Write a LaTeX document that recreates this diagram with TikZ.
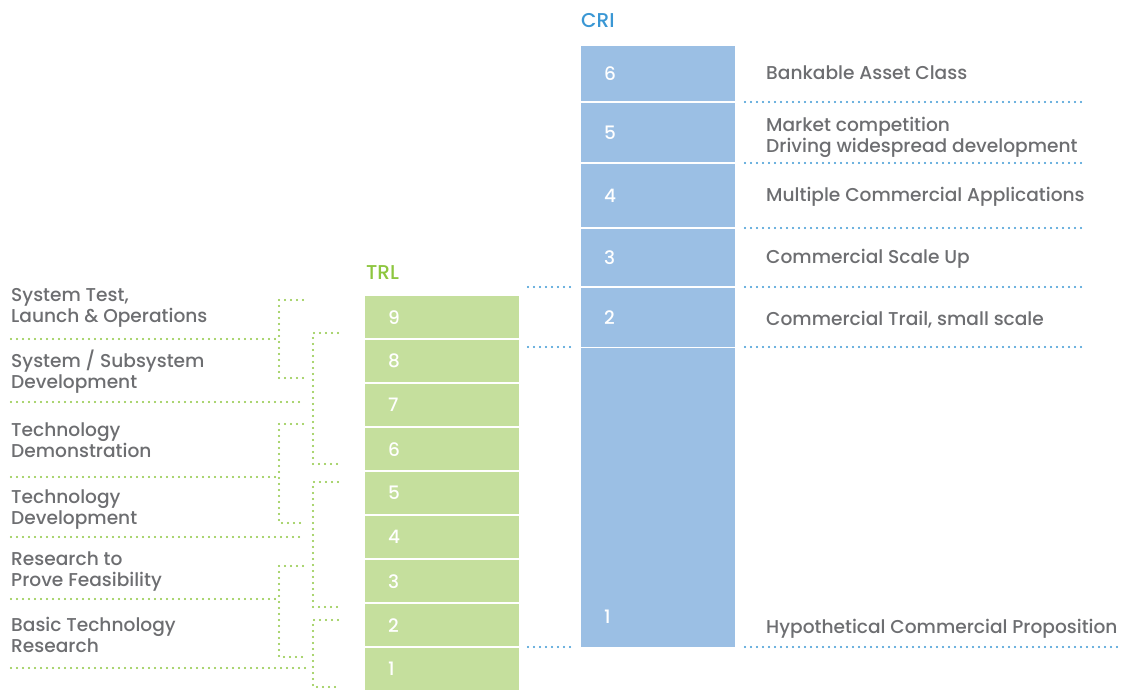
\documentclass[tikz,border=0pt]{standalone}
\usepackage{fontspec}
\setmainfont{Poppins}[UprightFont={* Medium}]
\definecolor{trlfill}{HTML}{C5DF9D}
\definecolor{trlgreen}{HTML}{8DC63F}
\definecolor{crifill}{HTML}{9BBFE4}
\definecolor{criblue}{HTML}{3A97D4}
\definecolor{txtgray}{HTML}{6D6E71}
\begin{document}
\begin{tikzpicture}[x=1pt,y=-1pt,
  txt/.style={font=\fontsize{18.6}{21}\selectfont, text=txtgray, inner sep=0pt, anchor=base west, align=left},
  numbox/.style={text width=108pt, inner xsep=23pt, inner ysep=0pt, align=left, anchor=north west, text=white, font=\fontsize{18.5}{21}\selectfont},
  trlbox/.style={numbox, fill=trlfill, minimum height=42pt},
  cribox/.style={numbox, fill=crifill},
  title/.style={font=\fontsize{20}{21}\selectfont, inner sep=0pt, anchor=base west},
  gdots/.style={draw=trlgreen, line width=2.3pt, line cap=round, dash pattern=on 0pt off 6pt},
  bdots/.style={draw=criblue, line width=2.3pt, line cap=round, dash pattern=on 0pt off 6pt}
]
\useasboundingbox (0,0) rectangle (1121,689);
% titles
\node[title, text=trlgreen] (trl) at (366,279) {TRL};
\node[title, text=criblue] (cri) at (581,27) {CRI};
% TRL boxes
\foreach \n/\y in {9/296,8/340,7/384,6/428,5/472,4/516,3/560,2/604,1/648}
  \node[trlbox] (t\n) at (365,\y) {\n};
% CRI boxes
\node[cribox, minimum height=55pt] (c6) at (581,46) {6};
\node[cribox, minimum height=59pt] (c5) at (581,103) {5};
\node[cribox, minimum height=63pt] (c4) at (581,164) {4};
\node[cribox, minimum height=57pt] (c3) at (581,229) {3};
\node[cribox, minimum height=59pt] (c2) at (581,288) {2};
\node[cribox, minimum height=299pt] (c1) at (581,348) {};
\node[numbox, anchor=west] (c1n) at (581,617) {1};
% CRI descriptions (base = last line)
\node[txt] (d6) at (766,79) {Bankable Asset Class};
\node[txt] (d5) at (766,152) {Market competition\\Driving widespread development};
\node[txt] (d4) at (766,201) {Multiple Commercial Applications};
\node[txt] (d3) at (766,263) {Commercial Scale Up};
\node[txt] (d2) at (766,325) {Commercial Trail, small scale};
\node[txt] (d1) at (766,633) {Hypothetical Commercial Proposition};
% TRL descriptions (base = last line)
\node[txt] (l1) at (11,322) {System Test,\\Launch \& Operations};
\node[txt] (l2) at (11,388) {System / Subsystem\\Development};
\node[txt] (l3) at (11,457) {Technology\\Demonstration};
\node[txt] (l4) at (11,524) {Technology\\Development};
\node[txt] (l5) at (11,586) {Research to\\Prove Feasibility};
\node[txt] (l6) at (11,652) {Basic Technology\\Research};
% blue dotted separators
\foreach \y in {102,163,228,287,347}
  \draw[bdots] (745,\y) -- (1082,\y);
\draw[bdots] (745,647) -- (1118,647);
\foreach \y in {287,347,647}
  \draw[bdots] (528,\y) -- (572,\y);
% green separators
\foreach \y/\xe in {339/279,402/303,477/279,537/303,599/279,668/307}
  \draw[gdots] (11,\y) -- (\xe,\y);
% inner brackets
\foreach \a/\b in {300/378,424/523,566/657}
  \draw[gdots] (303,\a) -- (279,\a) -- (279,\b) -- (303,\b);
% outer brackets
\foreach \a/\b in {333/464,482/607,620/687}
  \draw[gdots] (338,\a) -- (313,\a) -- (313,\b) -- (338,\b);
\end{tikzpicture}
\end{document}
